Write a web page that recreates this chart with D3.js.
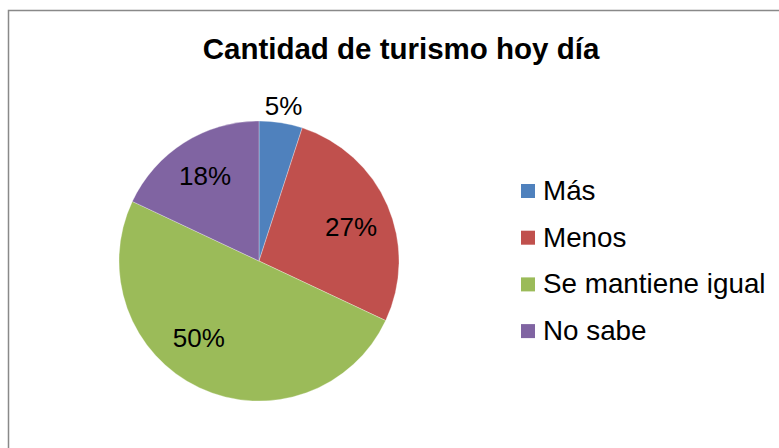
<!DOCTYPE html>
<html lang="es">
<head>
    <meta charset="UTF-8">
    <title>Cantidad de turismo hoy día</title>
    <script src="https://d3js.org/d3.v7.min.js"></script>
    <style>
        body { margin: 0; background: #fff; }
        svg text { font-family: Arial, "Liberation Sans", sans-serif; fill: #000; }
        .title { font-size: 29.5px; font-weight: bold; }
        .pct { font-size: 26px; }
        .legend_text { font-size: 27.8px; }
    </style>
</head>
<body>
    <svg width="779" height="448"></svg>

    <script>
        const title = "Cantidad de turismo hoy día";
        const categories = ["Más", "Menos", "Se mantiene igual", "No sabe"];
        const values = [5, 27, 50, 18];
        const colors = ["#4F81BD", "#C0504D", "#9BBB59", "#8064A2"];

        let svg = d3.select("svg");
        const cx = 259, cy = 261, r = 140;

        // chart frame
        svg.append("rect")
            .attr("x", 8.5).attr("y", 10.5)
            .attr("width", 800).attr("height", 500)
            .attr("fill", "none")
            .attr("stroke", "#898989")
            .attr("stroke-width", 1.5);

        svg.append("text").attr("class", "title")
            .attr("x", 401).attr("y", 59)
            .attr("text-anchor", "middle")
            .text(title);

        const pie = d3.pie().sort(null).value(d => d)(values);
        const arc = d3.arc().innerRadius(0).outerRadius(r);

        const g = svg.append("g").attr("transform", `translate(${cx},${cy})`);
        g.selectAll("path")
            .data(pie)
            .enter()
            .append("path")
            .attr("d", arc)
            .attr("fill", (d, i) => colors[i])
            .attr("stroke", "rgba(255,255,255,0.5)")
            .attr("stroke-width", 0.6);

        // label placement: radius factor and angle nudge (deg) per slice
        const labelR = [1.12, 0.70, 0.70, 0.72];
        const labelShift = [0, 3.4, 12.7, 0];
        g.selectAll("text.pct")
            .data(pie)
            .enter()
            .append("text")
            .attr("class", "pct")
            .attr("text-anchor", "middle")
            .attr("transform", (d, i) => {
                const a = (d.startAngle + d.endAngle) / 2 + labelShift[i] * Math.PI / 180;
                const rr = r * labelR[i];
                return `translate(${Math.sin(a) * rr},${-Math.cos(a) * rr + 9})`;
            })
            .text(d => d.data + "%");

        const legend = svg.append("g").attr("transform", "translate(521,200)");
        const rows = legend.selectAll("g")
            .data(categories)
            .enter()
            .append("g")
            .attr("transform", (d, i) => `translate(0,${i * 46.7})`);
        rows.append("rect")
            .attr("x", 0).attr("y", -16)
            .attr("width", 14).attr("height", 14)
            .attr("fill", (d, i) => colors[i]);
        rows.append("text")
            .attr("class", "legend_text")
            .attr("x", 22).attr("y", 0)
            .text(d => d);
    </script>
</body>
</html>
